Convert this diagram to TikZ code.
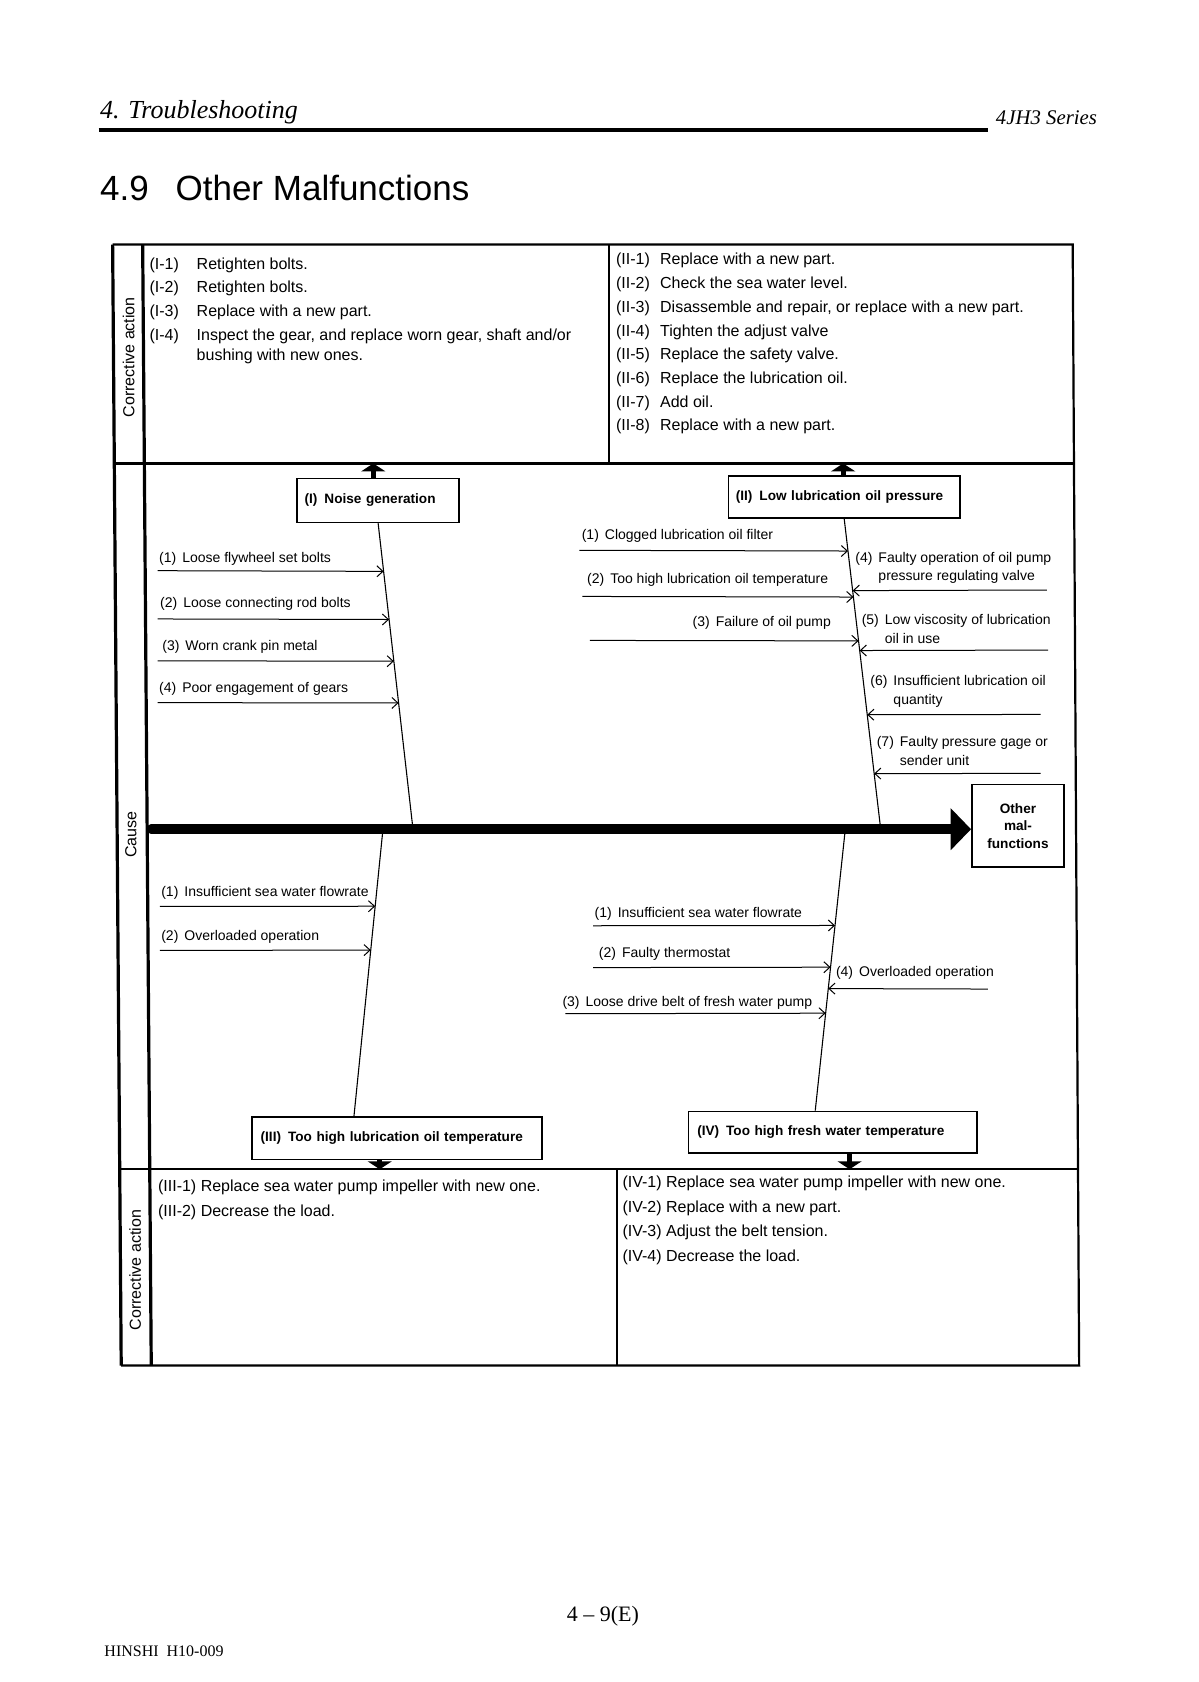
\documentclass[tikz,border=0pt]{standalone}
\usepackage{fontspec}
\setmainfont{Liberation Sans}
\newfontfamily\seriffamille{Liberation Serif}
\usetikzlibrary{arrows.meta,calc,positioning}

\begin{document}
\begin{tikzpicture}[x=0.53625pt,y=-0.53625pt]
			% Dimensions (MODIFIABLES)
			\def\Pas{0.53625pt}
			\def\yA{228}  % haut du cadre
			\def\yB{432}  % separation haut
			\def\yC{1090} % separation bas
			\def\yD{1273} % bas du cadre
			\def\yE{773}  % arete principale
			% Dimensions calculees (NON MODIFIABLES)
			\def\tB{(\yB-\yA)/(\yD-\yA)}
			\def\tC{(\yC-\yA)/(\yD-\yA)}
			% Styles (MODIFIABLES)
			\tikzstyle{cadre}=[line width=1.1pt]
			\tikzstyle{bande}=[line width=1.6pt]
			\tikzstyle{boite}=[draw,line width=0.8pt,inner xsep=7*\Pas,inner ysep=0pt,align=left,font=\bfseries\fontsize{6.8}{8.9}\selectfont]
			\tikzstyle{cause}=[inner sep=0pt,font=\fontsize{7}{9.4}\selectfont]
			\tikzstyle{action}=[inner sep=0pt,font=\fontsize{8}{11.85}\selectfont]
			\tikzstyle{actionbas}=[inner sep=0pt,font=\fontsize{8}{12.3}\selectfont]
			\tikzstyle{os}=[line width=0.55pt]
			\tikzstyle{fleche}=[-{Straight Barb[length=3pt,width=5.5pt]},line width=0.5pt]
			\tikzstyle{epine}=[-{Triangle[length=10.2pt,width=20.4pt]},line width=4.8pt,line cap=round]
			\tikzstyle{renvoi}=[-{Triangle[length=4pt,width=12pt]},line width=2.5pt]
			%
			\fill[white] (0,0) rectangle (1117,1568);
			\useasboundingbox (0,0) rectangle (1117,1568);
			% En-tete et pied de page
			\node[anchor=base west,inner sep=0pt,font=\seriffamille\itshape\fontsize{13}{15}\selectfont] (entete) at (93,110) {4. Troubleshooting};
			\draw[line width=1.7pt] (92,121) -- (921,121);
			\node[anchor=base west,inner sep=0pt,font=\seriffamille\itshape\fontsize{10.4}{12}\selectfont] (serie) at (928,116) {4JH3 Series};
			\node[anchor=base west,inner sep=0pt,font=\fontsize{17.5}{20}\selectfont] (titre) at (93,187) {4.9\hspace{13.4pt}Other Malfunctions};
			\node[anchor=base,inner sep=0pt,font=\seriffamille\fontsize{11}{13}\selectfont] (page) at (562,1512) {4 – 9(E)};
			\node[anchor=base west,inner sep=0pt,font=\seriffamille\fontsize{8}{10}\selectfont] (ref) at (97,1544) {HINSHI\ \ H10-009};
			% Cadre
			\coordinate (G0) at (105,\yA);
			\coordinate (G1) at (113,\yD);
			\coordinate (H0) at (133,\yA);
			\coordinate (H1) at (141,\yD);
			\coordinate (D0) at (1000,\yA);
			\coordinate (D1) at (1006,\yD);
			\draw[cadre] (G0) -- (D0) -- (D1) -- (G1);
			\draw[bande] (G0) -- (G1);
			\draw[bande] (H0) -- (H1);
			\draw[cadre] ($(G0)!{\tB}!(G1)$) -- ($(D0)!{\tB}!(D1)$);
			\draw[cadre] ($(G0)!{\tC}!(G1)$) -- ($(D0)!{\tC}!(D1)$);
			\draw[cadre] (568,\yA) -- (568,\yB);
			\draw[cadre] (575,\yC) -- (575,\yD);
			\node[action,rotate=90] (bandeA) at (120,333) {Corrective action};
			\node[action,rotate=90] (bandeB) at (122,778) {Cause};
			\node[action,rotate=90] (bandeC) at (126,1184) {Corrective action};
			% Actions correctives (haut)
			\node[action,anchor=base west] (actI) at (139,251) {\begin{tabular}[t]{@{}p{23.6pt}@{}l@{}}
				(I-1)&Retighten bolts.\\
				(I-2)&Retighten bolts.\\
				(I-3)&Replace with a new part.\\
				(I-4)&Inspect the gear, and replace worn gear, shaft and/or\\[-1.6pt]
				&bushing with new ones.\end{tabular}};
			\node[action,anchor=base west] (actII) at (574,247) {\begin{tabular}[t]{@{}p{22pt}@{}l@{}}
				(II-1)&Replace with a new part.\\
				(II-2)&Check the sea water level.\\
				(II-3)&Disassemble and repair, or replace with a new part.\\
				(II-4)&Tighten the adjust valve\\
				(II-5)&Replace the safety valve.\\
				(II-6)&Replace the lubrication oil.\\
				(II-7)&Add oil.\\
				(II-8)&Replace with a new part.\end{tabular}};
			% Actions correctives (bas)
			\node[actionbas,anchor=base west] (actIII) at (147,1111) {\begin{tabular}[t]{@{}l@{}}
				(III-1) Replace sea water pump impeller with new one.\\
				(III-2) Decrease the load.\end{tabular}};
			\node[actionbas,anchor=base west] (actIV) at (580,1107) {\begin{tabular}[t]{@{}l@{}}
				(IV-1) Replace sea water pump impeller with new one.\\
				(IV-2) Replace with a new part.\\
				(IV-3) Adjust the belt tension.\\
				(IV-4) Decrease the load.\end{tabular}};
			% Noeuds (effets)
			\node[boite,text width=137*\Pas,minimum height=41*\Pas] (BI) at (352.5,466.5) {\mbox{(I)\hspace{3.5pt}Noise generation}};
			\node[boite,text width=202*\Pas,minimum height=39*\Pas] (BII) at (787,463.5) {\mbox{(II)\hspace{3.5pt}Low lubrication oil pressure}};
			\node[boite,text width=254*\Pas,inner xsep=8*\Pas,minimum height=40*\Pas] (BIII) at (370,1061) {\mbox{(III)\hspace{3.5pt}Too high lubrication oil temperature}};
			\node[boite,text width=253*\Pas,inner xsep=8*\Pas,minimum height=39*\Pas] (BIV) at (776.5,1055.5) {\mbox{(IV)\hspace{3.5pt}Too high fresh water temperature}};
			\node[boite,align=center,text width=72*\Pas,minimum height=77*\Pas] (Autres) at (949,770) {Other\\mal-\\functions};
			% Points sur les aretes
			\coordinate (E0) at (141,\yE);
			\coordinate (Ib) at (385,\yE);
			\coordinate (IIb) at (821,\yE);
			\coordinate (IIIh) at (357,\yE);
			\coordinate (IVh) at (788,\yE);
			\coordinate (xIII) at (330,0);
			\coordinate (xIV) at (760,0);
			\coordinate (FI) at (348,\yB);
			\coordinate (FII) at (786,\yB);
			\coordinate (FIII) at (354,\yC);
			\coordinate (FIV) at (792,\yC);
			% Arete principale et aretes secondaires
			\draw[epine] (E0) -- (Autres.west |- E0);
			\draw[os] (BI.south) -- (Ib);
			\draw[os] (BII.south) -- (IIb);
			\draw[os] (IIIh) -- (BIII.north -| xIII);
			\draw[os] (IVh) -- (BIV.north -| xIV);
			\draw[renvoi] (BI.north -| FI) -- (FI);
			\draw[renvoi] (BII.north -| FII) -- (FII);
			\draw[renvoi] (BIII.south -| FIII) -- (FIII);
			\draw[renvoi] (BIV.south -| FIV) -- (FIV);
			% Causes (I)
			\node[cause,anchor=base west] (CI1) at (148,524) {(1)\hspace{3pt}Loose flywheel set bolts};
			\node[cause,anchor=base west] (CI2) at (149,566) {(2)\hspace{3pt}Loose connecting rod bolts};
			\node[cause,anchor=base west] (CI3) at (151,606) {(3)\hspace{3pt}Worn crank pin metal};
			\node[cause,anchor=base west] (CI4) at (148,646) {(4)\hspace{3pt}Poor engagement of gears};
			\coordinate (DI1) at (147,532);
			\coordinate (DI2) at (147,577);
			\coordinate (DI3) at (147,616);
			\coordinate (DI4) at (147,655);
			\coordinate (AI1) at ($(BI.south)!{(532-487)/286}!(Ib)$);
			\coordinate (AI2) at ($(BI.south)!{(577-487)/286}!(Ib)$);
			\coordinate (AI3) at ($(BI.south)!{(616-487)/286}!(Ib)$);
			\coordinate (AI4) at ($(BI.south)!{(655-487)/286}!(Ib)$);
			\draw[fleche] (DI1) -- (AI1);
			\draw[fleche] (DI2) -- (AI2);
			\draw[fleche] (DI3) -- (AI3);
			\draw[fleche] (DI4) -- (AI4);
			% Causes (II)
			\node[cause,anchor=base west] (CII1) at (542,503) {(1)\hspace{3pt}Clogged lubrication oil filter};
			\node[cause,anchor=base west] (CII2) at (547,544) {(2)\hspace{3pt}Too high lubrication oil temperature};
			\node[cause,anchor=base east] (CII3) at (775,584) {(3)\hspace{3pt}Failure of oil pump};
			\node[cause,anchor=base west] (CII4) at (797,524) {\begin{tabular}[t]{@{}l@{\hspace{3pt}}l@{}}(4)&Faulty operation of oil pump\\&pressure regulating valve\end{tabular}};
			\node[cause,anchor=base west] (CII5) at (803,582) {\begin{tabular}[t]{@{}l@{\hspace{3pt}}l@{}}(5)&Low viscosity of lubrication\\&oil in use\end{tabular}};
			\node[cause,anchor=base west] (CII6) at (811,639) {\begin{tabular}[t]{@{}l@{\hspace{3pt}}l@{}}(6)&Insufficient lubrication oil\\&quantity\end{tabular}};
			\node[cause,anchor=base west] (CII7) at (817,696) {\begin{tabular}[t]{@{}l@{\hspace{3pt}}l@{}}(7)&Faulty pressure gage or\\&sender unit\end{tabular}};
			\coordinate (DII1) at (540,513);
			\coordinate (DII2) at (543,556);
			\coordinate (DII3) at (550,597);
			\coordinate (DII4) at (976,550);
			\coordinate (DII5) at (977,606);
			\coordinate (DII6) at (970,666);
			\coordinate (DII7) at (970,721);
			\coordinate (AII1) at ($(BII.south)!{(513-483)/290}!(IIb)$);
			\coordinate (AII2) at ($(BII.south)!{(556-483)/290}!(IIb)$);
			\coordinate (AII3) at ($(BII.south)!{(597-483)/290}!(IIb)$);
			\coordinate (AII4) at ($(BII.south)!{(550-483)/290}!(IIb)$);
			\coordinate (AII5) at ($(BII.south)!{(606-483)/290}!(IIb)$);
			\coordinate (AII6) at ($(BII.south)!{(666-483)/290}!(IIb)$);
			\coordinate (AII7) at ($(BII.south)!{(721-483)/290}!(IIb)$);
			\draw[fleche] (DII1) -- (AII1);
			\draw[fleche] (DII2) -- (AII2);
			\draw[fleche] (DII3) -- (AII3);
			\draw[fleche] (DII4) -- (AII4);
			\draw[fleche] (DII5) -- (AII5);
			\draw[fleche] (DII6) -- (AII6);
			\draw[fleche] (DII7) -- (AII7);
			% Causes (III)
			\node[cause,anchor=base west] (CIII1) at (150,836) {(1)\hspace{3pt}Insufficient sea water flowrate};
			\node[cause,anchor=base west] (CIII2) at (150,877) {(2)\hspace{3pt}Overloaded operation};
			\coordinate (DIII1) at (149,845);
			\coordinate (DIII2) at (149,886);
			\coordinate (AIII1) at ($(IIIh)!{(845-773)/268}!(BIII.north -| xIII)$);
			\coordinate (AIII2) at ($(IIIh)!{(886-773)/268}!(BIII.north -| xIII)$);
			\draw[fleche] (DIII1) -- (AIII1);
			\draw[fleche] (DIII2) -- (AIII2);
			% Causes (IV)
			\node[cause,anchor=base west] (CIV1) at (554,855) {(1)\hspace{3pt}Insufficient sea water flowrate};
			\node[cause,anchor=base west] (CIV2) at (558,893) {(2)\hspace{3pt}Faulty thermostat};
			\node[cause,anchor=base west] (CIV3) at (524,938) {(3)\hspace{3pt}Loose drive belt of fresh water pump};
			\node[cause,anchor=base west] (CIV4) at (779,910) {(4)\hspace{3pt}Overloaded operation};
			\coordinate (DIV1) at (553,863);
			\coordinate (DIV2) at (553,902);
			\coordinate (DIV3) at (527,945);
			\coordinate (DIV4) at (921,922);
			\coordinate (AIV1) at ($(IVh)!{(863-773)/263}!(BIV.north -| xIV)$);
			\coordinate (AIV2) at ($(IVh)!{(902-773)/263}!(BIV.north -| xIV)$);
			\coordinate (AIV3) at ($(IVh)!{(945-773)/263}!(BIV.north -| xIV)$);
			\coordinate (AIV4) at ($(IVh)!{(922-773)/263}!(BIV.north -| xIV)$);
			\draw[fleche] (DIV1) -- (AIV1);
			\draw[fleche] (DIV2) -- (AIV2);
			\draw[fleche] (DIV3) -- (AIV3);
			\draw[fleche] (DIV4) -- (AIV4);
		\end{tikzpicture}
\end{document}
